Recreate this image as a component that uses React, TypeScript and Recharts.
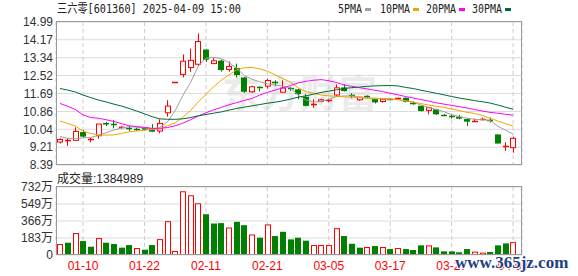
import { Bar, CartesianGrid, ComposedChart, Line, XAxis, YAxis } from "recharts";

// trading days shown in the window
const dates = [
  "01-07", "01-08", "01-09", "01-10", "01-13", "01-14", "01-15", "01-16", "01-17", "01-20",
  "01-21", "01-22", "01-23", "01-24", "01-27", "02-05", "02-06", "02-07", "02-10", "02-11",
  "02-12", "02-13", "02-14", "02-17", "02-18", "02-19", "02-20", "02-21", "02-24", "02-25",
  "02-26", "02-27", "02-28", "03-03", "03-04", "03-05", "03-06", "03-07", "03-10", "03-11",
  "03-12", "03-13", "03-14", "03-17", "03-18", "03-19", "03-20", "03-21", "03-24", "03-25",
  "03-26", "03-27", "03-28", "03-31", "04-01", "04-02", "04-03", "04-07", "04-08", "04-09",
];

const opens = [
  9.45, 9.52, 9.53, 9.91, 9.52, 9.74, 10.33, 10.29, 10.12, 10.09,
  10.07, 10.1, 10.1, 9.96, 10.8, 12.22, 12.57, 12.89, 13.04, 13.72,
  13.07, 13.21, 12.8, 12.87, 12.43, 11.77, 12.01, 12.03, 12.2, 11.75,
  11.93, 11.88, 11.54, 11.19, 11.33, 11.37, 11.62, 11.97, 11.62, 11.4,
  11.57, 11.43, 11.32, 11.45, 11.45, 11.49, 11.25, 11.12, 10.91, 10.96,
  10.71, 10.64, 10.62, 10.51, 10.41, 10.48, 10.45, 9.8, 9.25, 9.19,
];
const highs = [
  9.62, 9.62, 10.13, 10.0, 9.65, 10.29, 10.38, 10.46, 10.2, 10.15,
  10.12, 10.12, 10.28, 10.5, 11.38, 12.22, 13.49, 13.76, 14.46, 13.74,
  13.33, 13.25, 13.17, 13.07, 12.46, 12.05, 12.02, 12.37, 12.3, 12.3,
  12.0, 11.9, 11.66, 11.42, 11.45, 11.45, 12.11, 12.11, 11.7, 11.53,
  11.6, 11.45, 11.44, 11.48, 11.5, 11.51, 11.32, 11.15, 11.06, 10.99,
  10.74, 10.7, 10.7, 10.53, 10.52, 10.58, 10.58, 9.8, 9.44, 9.69,
];
const lows = [
  9.38, 9.27, 9.5, 9.66, 9.44, 9.6, 10.19, 10.08, 10.08, 9.95,
  9.97, 9.98, 9.92, 9.85, 10.62, 12.22, 12.43, 12.69, 12.96, 13.15,
  13.05, 12.7, 12.7, 12.43, 11.72, 11.72, 11.78, 11.91, 12.03, 11.73,
  11.82, 11.43, 11.1, 11.03, 11.28, 11.28, 11.54, 11.78, 11.47, 11.35,
  11.47, 11.23, 11.27, 11.4, 11.43, 11.28, 11.17, 10.86, 10.73, 10.7,
  10.66, 10.53, 10.5, 10.19, 10.38, 10.46, 10.35, 9.38, 9.04, 8.96,
];
const closes = [
  9.57, 9.54, 9.94, 9.7, 9.58, 10.28, 10.26, 10.25, 10.15, 10.04,
  10.05, 10.02, 9.93, 10.31, 11.11, 12.22, 13.18, 13.22, 14.09, 13.25,
  13.2, 12.77, 12.94, 12.54, 11.77, 12.0, 11.97, 12.29, 12.16, 11.94,
  11.9, 11.66, 11.12, 11.21, 11.4, 11.41, 11.95, 11.8, 11.58, 11.52,
  11.54, 11.28, 11.43, 11.42, 11.47, 11.31, 11.23, 10.88, 11.03, 10.73,
  10.69, 10.62, 10.53, 10.39, 10.44, 10.5, 10.42, 9.38, 9.28, 9.62,
];

// volume in 万 (10k shares)
const volumes = [
  118, 132, 236, 150, 89, 182, 132, 118, 79, 107,
  75, 57, 107, 171, 364, 43, 686, 643, 557, 439,
  339, 343, 296, 357, 321, 221, 186, 329, 204, 250,
  168, 186, 154, 107, 107, 107, 289, 204, 121, 79,
  86, 96, 86, 64, 75, 64, 54, 104, 104, 82,
  39, 39, 29, 64, 36, 25, 32, 104, 125, 138.5,
];

const ma5 = [
  9.71, 9.62, 9.62, 9.64, 9.66, 9.76, 9.88, 10.0, 10.1, 10.16,
  10.14, 10.1, 10.06, 10.12, 10.38, 10.9, 11.6, 12.2, 12.95, 13.32,
  13.36, 13.3, 13.12, 12.85, 12.52, 12.35, 12.23, 12.14, 12.08, 12.03,
  11.95, 11.62, 11.4, 11.3, 11.32, 11.42, 11.55, 11.58, 11.58, 11.52,
  11.48, 11.45, 11.44, 11.43, 11.42, 11.35, 11.3, 11.15, 11.05, 10.95,
  10.85, 10.72, 10.62, 10.55, 10.5, 10.48, 10.45, 10.18, 10.0, 9.82,
];
const ma10 = [
  10.42, 10.3, 10.19, 9.95, 9.84, 9.78, 9.77, 9.78, 9.85, 9.92,
  9.96, 10.0, 10.03, 10.05, 10.2, 10.33, 10.6, 10.9, 11.3, 11.65,
  12.0, 12.3, 12.55, 12.78, 12.88, 12.89, 12.83, 12.72, 12.55, 12.38,
  12.22, 11.95, 11.78, 11.7, 11.62, 11.58, 11.56, 11.54, 11.52, 11.5,
  11.48, 11.47, 11.46, 11.44, 11.4, 11.35, 11.29, 11.22, 11.16, 11.1,
  11.05, 10.98, 10.9, 10.82, 10.77, 10.68, 10.55, 10.42, 10.3, 10.19,
];
const ma20 = [
  11.23, 11.1, 10.95, 10.7, 10.58, 10.55, 10.48, 10.4, 10.3, 10.2,
  10.16, 10.13, 10.08, 10.08, 10.12, 10.2, 10.32, 10.48, 10.65, 10.8,
  10.93, 11.05, 11.17, 11.27, 11.37, 11.46, 11.62, 11.74, 11.85, 11.95,
  12.05, 12.18, 12.25, 12.3, 12.33, 12.28, 12.2, 12.08, 12.02, 11.96,
  11.9, 11.84, 11.78, 11.7, 11.63, 11.55, 11.48, 11.41, 11.34, 11.26,
  11.2, 11.14, 11.08, 11.02, 10.95, 10.88, 10.82, 10.78, 10.73, 10.69,
];
const ma30 = [
  11.92, 11.85, 11.76, 11.62, 11.5, 11.39, 11.3, 11.2, 11.11, 11.0,
  10.88, 10.75, 10.62, 10.52, 10.5, 10.5, 10.52, 10.58, 10.66, 10.72,
  10.78, 10.84, 10.92, 11.0, 11.06, 11.12, 11.18, 11.24, 11.29, 11.35,
  11.43, 11.52, 11.58, 11.66, 11.74, 11.8, 11.86, 11.92, 11.96, 11.99,
  12.02, 12.04, 12.05, 12.06, 12.04, 11.97, 11.92, 11.84, 11.77, 11.7,
  11.63, 11.55, 11.48, 11.42, 11.36, 11.31, 11.25, 11.16, 11.06, 10.96,
];

const priceTicks = [8.39, 9.21, 10.04, 10.86, 11.69, 12.52, 13.34, 14.17, 14.99];
const volumeTicks = [0, 183, 366, 549, 732];
const dateTicks = ["01-10", "01-22", "02-11", "02-21", "03-05", "03-17", "03-27", "04-09"];

const stockName = "三六零";
const stockCode = "601360";
const quoteTime = "2025-04-09 15:00";
const latestVolume = 1384989;

const UP = "#ff0000";
const DOWN = "#008000";
const maSeries = [
  { key: "ma5", name: "5PMA", color: "#a0a0a0" },
  { key: "ma10", name: "10PMA", color: "#f5a300" },
  { key: "ma20", name: "20PMA", color: "#ff00ff" },
  { key: "ma30", name: "30PMA", color: "#006b35" },
];

const rows = dates.map((date, i) => ({
  i,
  date,
  open: opens[i],
  high: highs[i],
  low: lows[i],
  close: closes[i],
  volume: volumes[i],
  volUp: i === 0 ? closes[i] >= opens[i] : closes[i] >= closes[i - 1],
  ma5: ma5[i],
  ma10: ma10[i],
  ma20: ma20[i],
  ma30: ma30[i],
}));

const tickIndex = dateTicks.map((d) => dates.indexOf(d));
const xDomain = [-0.52, 60.16];
const font = "'Liberation Sans', Arial, 'Noto Sans CJK SC', sans-serif";
const monoFont = "'DejaVu Sans Mono', 'Noto Sans CJK SC', monospace";

function Candle(props: any) {
  const { x, y, width, height, payload } = props;
  const { open, close, high, low } = payload;
  const top = height >= 0 ? y : y + height;
  const h = Math.abs(height);
  const span = high > low ? high - low : 0.001;
  const k = h / span;
  const py = (v: number) => top + (high - v) * k;
  const cx = Math.round(x + width / 2) + 0.5;
  const up = close >= open;
  const color = up ? UP : DOWN;
  const bTop = py(Math.max(open, close));
  const bBot = py(Math.min(open, close));
  const bx = Math.round(x);
  const w = Math.round(width);
  const bodyH = bBot - bTop;
  return (
    <g>
      <line x1={cx} x2={cx} y1={py(high)} y2={py(low)} stroke={color} strokeWidth={1} />
      {bodyH < 1.5 ? (
        <line x1={bx} x2={bx + w + 1} y1={Math.round(bTop) + 0.5} y2={Math.round(bTop) + 0.5} stroke={color} strokeWidth={1.5} />
      ) : up ? (
        <rect x={bx + 0.5} y={bTop} width={w} height={bodyH} fill="#fff" stroke={color} strokeWidth={1} />
      ) : (
        <rect x={bx} y={bTop} width={w + 1} height={bodyH} fill={color} />
      )}
    </g>
  );
}

function VolumeBar(props: any) {
  const { x, y, width, height, payload } = props;
  const bx = Math.round(x);
  const w = Math.round(width);
  if (payload.volUp) {
    return <rect x={bx + 0.5} y={y + 0.5} width={w} height={Math.max(height - 0.5, 0)} fill="#fff" stroke={UP} strokeWidth={1} />;
  }
  return <rect x={bx} y={y} width={w + 1} height={height} fill={DOWN} />;
}

export default function App() {
  return (
    <div style={{ position: "absolute", left: 0, top: 0, width: 578, height: 276, background: "#fff", fontFamily: font, overflow: "hidden" }}>
      {/* faint watermark behind the price panel */}
      <div style={{ position: "absolute", left: 222, top: 68, fontSize: 38, fontWeight: 700, color: "#ebebeb", fontFamily: "'Noto Sans CJK SC', sans-serif", letterSpacing: 1, lineHeight: "46px" }}>
        东方财富
      </div>

      <div style={{ position: "absolute", left: 0, top: 0 }}>
        <ComposedChart width={578} height={178} data={rows} margin={{ top: 22, right: 56, bottom: 13, left: 0 }}>
          <CartesianGrid vertical={false} stroke="#dcdcdc" />
          <CartesianGrid horizontal={false} stroke="#cccccc" strokeDasharray="4 3" />
          <XAxis type="number" dataKey="i" domain={xDomain} ticks={tickIndex} interval={0} allowDataOverflow hide />
          <YAxis
            type="number"
            domain={[8.39, 14.99]}
            ticks={priceTicks}
            interval={0}
            allowDataOverflow
            width={56}
            tickLine={false}
            axisLine={false}
            tickSize={0}
            tickMargin={3}
            tick={{ fill: "#333", fontSize: 12 }}
            tickFormatter={(v: number) => v.toFixed(2)}
          />
          {maSeries.map((s) => (
            <Line key={s.key} type="linear" dataKey={s.key} stroke={s.color} strokeWidth={1} dot={false} isAnimationActive={false} />
          ))}
          <Bar
            dataKey={(d: any) => [d.low, d.high > d.low ? d.high : d.high + 0.001]}
            barSize={5}
            shape={<Candle />}
            isAnimationActive={false}
          />
        </ComposedChart>
      </div>

      <div style={{ position: "absolute", left: 0, top: 0 }}>
        <ComposedChart width={578} height={276} data={rows} margin={{ top: 187, right: 56, bottom: 0, left: 0 }}>
          <CartesianGrid vertical={false} stroke="#dcdcdc" />
          <CartesianGrid horizontal={false} stroke="#cccccc" strokeDasharray="4 3" />
          <XAxis
            type="number"
            dataKey="i"
            domain={xDomain}
            ticks={tickIndex}
            interval={0}
            allowDataOverflow
            height={21}
            tickLine={false}
            axisLine={false}
            tickSize={0}
            tickMargin={6}
            tick={{ fill: "#ff0000", fontSize: 12 }}
            tickFormatter={(v: number) => dates[v]}
          />
          <YAxis
            type="number"
            domain={[0, 732]}
            ticks={volumeTicks}
            interval={0}
            allowDataOverflow
            width={56}
            tickLine={false}
            axisLine={false}
            tickSize={0}
            tickMargin={3}
            tick={{ fill: "#333", fontSize: 12 }}
            tickFormatter={(v: number) => (v === 0 ? "0" : `${v}万`)}
          />
          <Bar dataKey="volume" barSize={5} shape={<VolumeBar />} isAnimationActive={false} />
        </ComposedChart>
      </div>

      <svg width={578} height={276} style={{ position: "absolute", left: 0, top: 0, pointerEvents: "none" }}>
        <rect x={56.5} y={21.5} width={465} height={143} fill="none" stroke="#9a9a9a" />
        <rect x={56.5} y={186.5} width={465} height={68} fill="none" stroke="#9a9a9a" />
        <text x={57} y={13} fontSize={12} fontFamily={monoFont} fill="#222" textLength={184} lengthAdjust="spacingAndGlyphs">
          {`${stockName}[${stockCode}] ${quoteTime}`}
        </text>
        {maSeries.map((s, k) => {
          const starts = [338, 380, 426, 472];
          const tw = s.name.length * 6;
          return (
            <g key={s.key}>
              <text x={starts[k]} y={13} fontSize={12} fontFamily={monoFont} fill="#222" textLength={tw} lengthAdjust="spacingAndGlyphs">
                {s.name}
              </text>
              <rect x={starts[k] + tw + 3} y={8} width={6} height={3} fill={s.color} />
            </g>
          );
        })}
        <text x={57} y={183} fontSize={12} fontFamily={font} fill="#222">
          {`成交量:${latestVolume}`}
        </text>
        <text
          x={455}
          y={268}
          fontSize={17}
          fontWeight={700}
          fontFamily="'Liberation Serif', 'Times New Roman', serif"
          fill="#1f3f85"
          stroke="#fff"
          strokeWidth={2}
          paintOrder="stroke"
        >
          www.365jz.com
        </text>
      </svg>
    </div>
  );
}
